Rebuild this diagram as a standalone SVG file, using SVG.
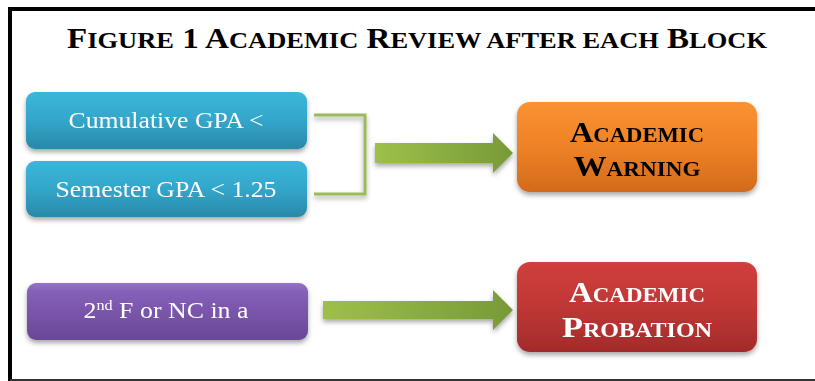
<svg xmlns="http://www.w3.org/2000/svg" width="815" height="381" viewBox="0 0 815 381">
<defs>
<linearGradient id="gBlue" x1="0" y1="0" x2="0" y2="1"><stop offset="0" stop-color="#3BB6DB"/><stop offset="0.5" stop-color="#33A6CA"/><stop offset="1" stop-color="#2A88A8"/></linearGradient>
<linearGradient id="gPurple" x1="0" y1="0" x2="0" y2="1"><stop offset="0" stop-color="#9673C9"/><stop offset="0.15" stop-color="#8560B8"/><stop offset="1" stop-color="#6A4796"/></linearGradient>
<linearGradient id="gOrange" x1="0" y1="0" x2="0" y2="1"><stop offset="0" stop-color="#FA9232"/><stop offset="0.5" stop-color="#EE8226"/><stop offset="1" stop-color="#D26A1C"/></linearGradient>
<linearGradient id="gRed" x1="0" y1="0" x2="0" y2="1"><stop offset="0" stop-color="#D03F3D"/><stop offset="0.5" stop-color="#BF3735"/><stop offset="1" stop-color="#A22B2A"/></linearGradient>
<linearGradient id="gGreen" x1="0" y1="0" x2="1" y2="0"><stop offset="0" stop-color="#9DC04A"/><stop offset="1" stop-color="#779A38"/></linearGradient>
<filter id="sh" x="-10%" y="-20%" width="120%" height="150%"><feDropShadow dx="0" dy="3" stdDeviation="2.5" flood-color="#000" flood-opacity="0.35"/></filter>
<style>
.box{filter:url(#sh);}
.t{font-family:"Liberation Serif","DejaVu Serif",serif;fill:#fff;font-size:24px;text-anchor:middle;}
.h{font-family:"Liberation Serif","DejaVu Serif",serif;font-weight:bold;font-variant:small-caps;font-size:30px;text-anchor:middle;}
.conn{fill:url(#gGreen);filter:url(#sh);}
.sc{font-size:24px;}
</style>
</defs>
<rect x="0" y="0" width="815" height="381" fill="#fff"/>
<path d="M10 381 V9 H815" fill="none" stroke="#000" stroke-width="4"/>
<line x1="10" y1="380" x2="815" y2="380" stroke="#333" stroke-width="2"/>
<text id="title" x="417" y="48" font-family="Liberation Serif, DejaVu Serif, serif" font-weight="bold" font-size="30" text-anchor="middle" textLength="700" lengthAdjust="spacingAndGlyphs">F<tspan class="sc">IGURE</tspan> 1 A<tspan class="sc">CADEMIC</tspan> R<tspan class="sc">EVIEW AFTER EACH</tspan> B<tspan class="sc">LOCK</tspan></text>
<g id="connectors">
<path d="M314 115 H365 V194 H314" fill="none" stroke="#9BBB59" stroke-width="3" filter="url(#sh)"/>
<path class="conn" d="M375 143 H493 V133 L513 153 L493 173 V163 H375 Z"/>
<path class="conn" d="M323 301 H493 V290 L513 310 L493 330 V319 H323 Z"/>
</g>
<g id="cumulative" class="box">
<rect x="26" y="92" width="281" height="57" rx="9" fill="url(#gBlue)"/>
<text class="t" x="166" y="128" textLength="195" lengthAdjust="spacingAndGlyphs">Cumulative GPA &lt;</text>
</g>
<g id="semester" class="box">
<rect x="26" y="161" width="281" height="56" rx="9" fill="url(#gBlue)"/>
<text class="t" x="166" y="197" textLength="221" lengthAdjust="spacingAndGlyphs">Semester GPA &lt; 1.25</text>
</g>
<g id="second-f" class="box">
<rect x="27" y="283" width="281" height="57" rx="9" fill="url(#gPurple)"/>
<text class="t" x="166" y="318" textLength="165" lengthAdjust="spacingAndGlyphs">2<tspan font-size="15" dy="-8">nd</tspan><tspan dy="8"> F or NC in a</tspan></text>
</g>
<g id="warning" class="box">
<rect x="517" y="102" width="240" height="90" rx="13" fill="url(#gOrange)"/>
<text class="h" x="637" y="142" fill="#000" textLength="134" lengthAdjust="spacingAndGlyphs">Academic</text>
<text class="h" x="637" y="176" fill="#000" textLength="127" lengthAdjust="spacingAndGlyphs">Warning</text>
</g>
<g id="probation" class="box">
<rect x="517" y="262" width="240" height="90" rx="13" fill="url(#gRed)"/>
<text class="h" x="637" y="302" fill="#fff" textLength="136" lengthAdjust="spacingAndGlyphs">Academic</text>
<text class="h" x="637" y="337" fill="#fff" textLength="150" lengthAdjust="spacingAndGlyphs">Probation</text>
</g>
</svg>
